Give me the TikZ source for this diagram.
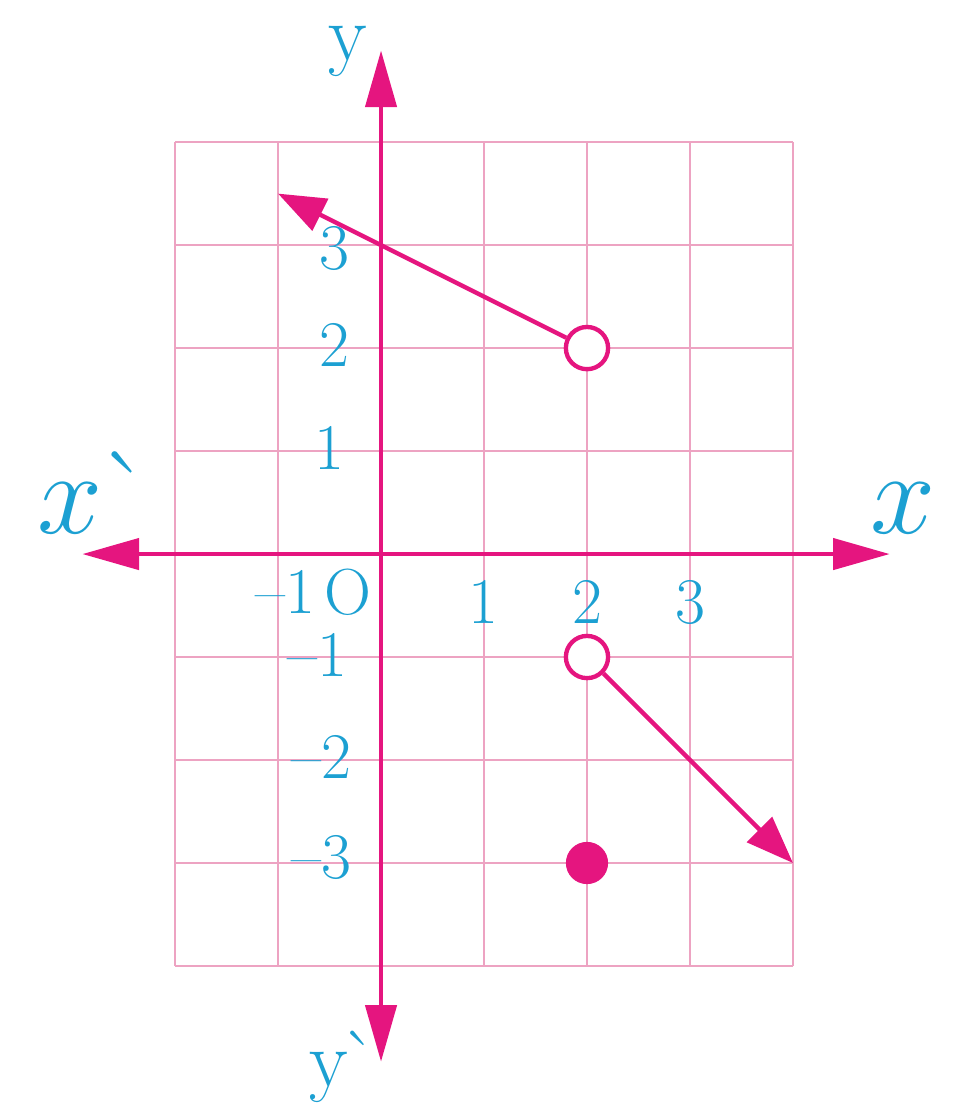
\documentclass[tikz,border=0pt]{standalone}
\usetikzlibrary{arrows.meta}
\definecolor{axispink}{HTML}{E5157F}
\definecolor{gridpink}{HTML}{EDA3C2}
\definecolor{labelblue}{HTML}{1CA0D2}

\begin{document}
\begin{tikzpicture}[gridline/.style={draw=gridpink,line width=0.6pt},
  axisline/.style={draw=axispink,line width=1.3pt,{Triangle[length=5.5mm,width=3mm]}-{Triangle[length=5.5mm,width=3mm]}},
  graphline/.style={draw=axispink,line width=1.2pt,-{Triangle[length=4.6mm,width=3.4mm]}},
  hollow/.style={circle,draw=axispink,fill=white,line width=1.2pt,inner sep=0pt,minimum size=4.1mm},
  fulldot/.style={circle,fill=axispink,inner sep=0pt,minimum size=4.1mm},
  num/.style={text=labelblue,font=\fontsize{18}{20}\selectfont,inner sep=0pt},
  axlabel/.style={text=labelblue,inner sep=0pt}]
\useasboundingbox (-3.70,-5.35) rectangle (5.64,5.38);
\draw[gridline] (-2,-4) grid (4,4);
\coordinate (xl) at (-2.90,0);
\coordinate (xr) at (4.94,0);
\coordinate (yb) at (0,-4.93);
\coordinate (yt) at (0,4.89);
\draw[axisline] (xl) -- (xr);
\draw[axisline] (yb) -- (yt);
\node[axlabel,font=\fontsize{25}{28}\selectfont,anchor=base] (xlab) at (5.07,0.20) {\scalebox{1.3}{$x$}};
\node[axlabel,font=\fontsize{25}{28}\selectfont,anchor=base west] (xplab) at (-3.34,0.20) {\scalebox{1.3}{$x$\kern-1pt\textasciigrave}};
\node[axlabel,font=\fontsize{22}{24}\selectfont] (ylab) at (-0.32,4.88) {y};
\node[axlabel,font=\fontsize{22}{24}\selectfont] (yplab) at (-0.36,-4.98) {y\kern-2pt\textasciigrave};
\node[num,anchor=east] (ny3) at (-0.30,2.97) {3};
\node[num,anchor=east] (ny2) at (-0.30,2.03) {2};
\node[num,anchor=east] (ny1) at (-0.35,1.03) {1};
\node[num,anchor=east] (nym1) at (-0.32,-0.98) {--1};
\node[num,anchor=east] (nym2) at (-0.28,-1.97) {--2};
\node[num,anchor=east] (nym3) at (-0.28,-2.95) {--3};
\node[num] (nxm1) at (-0.93,-0.37) {--1};
\node[num] (norig) at (-0.32,-0.37) {O};
\node[num] (nx1) at (0.99,-0.47) {1};
\node[num] (nx2) at (2.00,-0.47) {2};
\node[num] (nx3) at (3.00,-0.47) {3};
\node[hollow] (open1) at (2,2) {};
\node[hollow] (open2) at (2,-1) {};
\node[fulldot] (closed) at (2,-3) {};
\coordinate (tip1) at (-1,3.5);
\coordinate (tip2) at (4,-3);
\draw[graphline] (open1) -- (tip1);
\draw[graphline] (open2) -- (tip2);
\end{tikzpicture}
\end{document}
